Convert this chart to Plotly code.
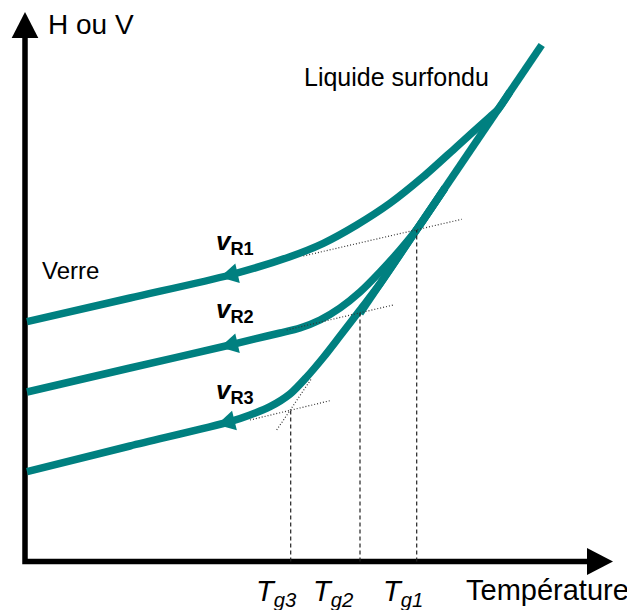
import numpy as np
import plotly.graph_objects as go

# ---------------- data (diagram units: T to the right, H upward) ----------------
liquid_T = [541.7, 360.0]
liquid_H = [565.0, 296.7]

r1_T = [27, 130, 230, 290, 323.3, 356.7, 390, 423.3, 456.7, 490, 498, 510]
r1_H = [288.3, 312.0, 335.0, 353.3, 366.7, 385.0, 406.7, 433.3, 463.3, 493.3, 500.5, 518.3]

r2_T = [27, 130, 230, 255, 280, 300, 320, 340, 360, 380, 400, 416.7, 445]
r2_H = [218.0, 242.0, 265.0, 271.2, 277.0, 282.0, 290.0, 302.0, 318.0, 338.0, 360.0, 380.4, 422.2]

r3_T = [27, 130, 230, 250, 270, 290, 306.7, 323.3, 340, 360, 380, 416.7, 445]
r3_H = [138.3, 164.0, 188.3, 195.0, 203.3, 216.0, 233.0, 252.5, 274.0, 300.0, 326.2, 380.4, 422.2]

# glass transition temperatures and the H of the construction intersections
tg_T = [416.7, 360.0, 290.7]
tg_H = [380.0, 296.7, 200.0]
tg_labels = ["T<sub>g1</sub>", "T<sub>g2</sub>", "T<sub>g3</sub>"]

# dotted tangent constructions (glass-line extensions + liquid extension)
tan_T = [[303.3, 461.7], [286.7, 393.3], [250.0, 330.0], [276.7, 311.7]]
tan_H = [[354.0, 390.7], [280.0, 305.0], [190.0, 209.3], [180.0, 231.7]]

# cooling-rate labels and arrow positions
rate_labels = ["R1", "R2", "R3"]
arrow_T = [220, 220, 217]

# axes
axis_origin = (25, 48.5)
axis_y_end = 598
axis_x_end = 613

TEAL = "#008080"
FONT = "Liberation Sans, Arial, sans-serif"

fig = go.Figure()


def tri(tip, d, length, half):
    d = np.asarray(d, float)
    d = d / np.linalg.norm(d)
    n = np.array([-d[1], d[0]])
    tip = np.asarray(tip, float)
    base = tip - d * length
    p1 = base + n * half
    p2 = base - n * half
    xs = [tip[0], p1[0], p2[0], tip[0]]
    ys = [tip[1], p1[1], p2[1], tip[1]]
    return xs, ys


def add_tri(xs, ys, color):
    fig.add_trace(go.Scatter(x=xs, y=ys, mode="lines", fill="toself",
                             fillcolor=color, line=dict(width=0, color=color),
                             hoverinfo="skip", showlegend=False))


# ---- axes ----
ox, oy = axis_origin
ah_len = 26
fig.add_trace(go.Scatter(x=[ox, ox, axis_x_end - ah_len + 1],
                         y=[axis_y_end - ah_len + 1, oy, oy],
                         mode="lines", line=dict(color="black", width=5.5),
                         hoverinfo="skip", showlegend=False))
xs, ys = tri((ox, axis_y_end), (0, 1), ah_len, 13.3)
add_tri(xs, ys, "black")
xs, ys = tri((axis_x_end, oy), (1, 0), ah_len, 13.5)
add_tri(xs, ys, "black")

# ---- curves ----
fig.add_trace(go.Scatter(x=liquid_T, y=liquid_H, mode="lines",
                         line=dict(color=TEAL, width=7.5),
                         hoverinfo="skip", showlegend=False))
for T, H in [(r1_T, r1_H), (r2_T, r2_H), (r3_T, r3_H)]:
    fig.add_trace(go.Scatter(x=T, y=H, mode="lines",
                             line=dict(color=TEAL, width=7.5, shape="spline", smoothing=0.8),
                             hoverinfo="skip", showlegend=False))

# arrowheads on the glass branches
for (T, H), at in zip([(r1_T, r1_H), (r2_T, r2_H), (r3_T, r3_H)], arrow_T):
    ah = float(np.interp(at, T, H))
    d = (T[0] - T[1], H[0] - H[1])
    xs, ys = tri((at, ah), d, 18, 10)
    add_tri(xs, ys, TEAL)

# ---- dotted tangents ----
for T, H in zip(tan_T, tan_H):
    fig.add_trace(go.Scatter(x=T, y=H, mode="lines",
                             line=dict(color="#333333", width=1.2, dash="1px,2px"),
                             hoverinfo="skip", showlegend=False))

# ---- dashed verticals at Tg ----
for t, h in zip(tg_T, tg_H):
    fig.add_trace(go.Scatter(x=[t, t], y=[oy, h], mode="lines",
                             line=dict(color="#222222", width=1.2, dash="4px,3px"),
                             hoverinfo="skip", showlegend=False))

# ---- text ----
ann = []
ann.append(dict(x=46, y=586, text="H ou V", xanchor="left", yanchor="middle",
                font=dict(size=28, family=FONT, color="black")))
ann.append(dict(x=302, y=533.5, text="Liquide surfondu", xanchor="left", yanchor="middle",
                font=dict(size=25, family=FONT, color="black")))
ann.append(dict(x=39.5, y=339.5, text="Verre", xanchor="left", yanchor="middle",
                font=dict(size=24, family=FONT, color="black")))
ann.append(dict(x=464, y=20, text="Température", xanchor="left", yanchor="middle",
                font=dict(size=29, family=FONT, color="black")))
tg_left = [381, 311, 254]
for lbl, xl in zip(tg_labels, tg_left):
    ann.append(dict(x=xl, y=17, text="<i>" + lbl + "</i>", xanchor="left", yanchor="middle",
                    font=dict(size=29, family=FONT, color="black")))
rate_y = [368, 300, 219]
for lbl, yl in zip(rate_labels, rate_y):
    ann.append(dict(x=214, y=yl, text="<b><i>v</i><sub>" + lbl + "</sub></b>",
                    xanchor="left", yanchor="middle",
                    font=dict(size=26, family=FONT, color="black")))
for a in ann:
    a.update(xref="x", yref="y", showarrow=False)

# the page body adds an 8 px offset, so the visible window starts 8 units in
fig.update_layout(
    width=635, height=610,
    margin=dict(l=0, r=0, t=0, b=0, pad=0),
    paper_bgcolor="white", plot_bgcolor="white",
    xaxis=dict(range=[8, 643], visible=False, fixedrange=True),
    yaxis=dict(range=[-8, 602], visible=False, fixedrange=True),
    annotations=ann,
    showlegend=False,
)

fig.write_html("out.html")
